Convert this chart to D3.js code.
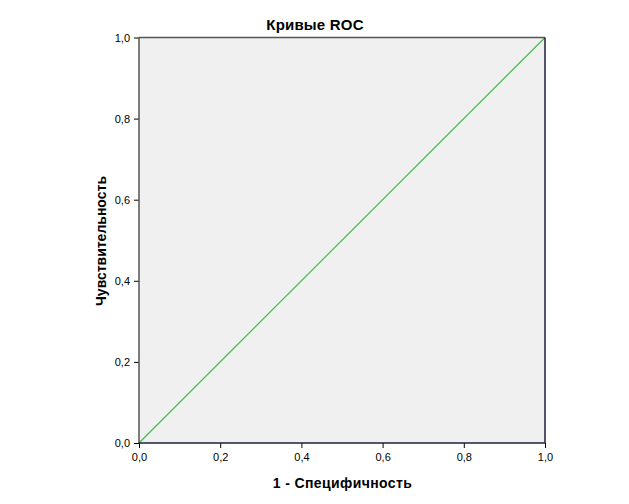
<!DOCTYPE html>
<html>
<head>
<meta charset="utf-8">
<script src="https://d3js.org/d3.v7.min.js"></script>
<style>
  body { margin: 0; background: #fff; }
  svg text { font-family: Arial, "Liberation Sans", sans-serif; fill: #000; }
</style>
</head>
<body>
<div id="chart"></div>
<script>
// ROC curve data (reference line only)
var fprValues = [0, 1];
var tprValues = [0, 1];
var tickValues = [0, 0.2, 0.4, 0.6, 0.8, 1.0];
var chartTitle = 'Кривые ROC';
var xTitle = '1 - Специфичность';
var yTitle = 'Чувствительность';

var width = 629, height = 504;
var margin = { left: 139, right: 84, top: 37.5, bottom: 61 };
var plotW = width - margin.left - margin.right;
var plotH = height - margin.top - margin.bottom;

var svg = d3.select('#chart')
  .append('svg')
  .attr('width', width)
  .attr('height', height);

var x = d3.scaleLinear().domain([0, 1]).range([margin.left, margin.left + plotW]);
var y = d3.scaleLinear().domain([0, 1]).range([margin.top + plotH, margin.top]);

var fmt = function(d) { return d3.format('.1f')(d).replace('.', ','); };

// plot background
svg.append('rect')
  .attr('x', x(0)).attr('y', y(1))
  .attr('width', x(1) - x(0)).attr('height', y(0) - y(1))
  .attr('fill', '#f0f0f0');

// axes
var xAxis = svg.append('g')
  .attr('transform', 'translate(0,' + y(0) + ')')
  .call(d3.axisBottom(x).tickValues(tickValues).tickFormat(fmt).tickSize(5).tickSizeOuter(0));
var yAxis = svg.append('g')
  .attr('transform', 'translate(' + x(0) + ',0)')
  .call(d3.axisLeft(y).tickValues(tickValues).tickFormat(fmt).tickSize(5).tickSizeOuter(0));

[xAxis, yAxis].forEach(function(a) {
  a.select('.domain').remove();
  a.selectAll('line').attr('stroke', '#000');
  a.selectAll('text').style('font-size', '11px').attr('fill', '#000');
});
xAxis.selectAll('text').attr('dy', '0.9em');
yAxis.selectAll('text').attr('dx', '-1px');

// reference diagonal
var line = d3.line()
  .x(function(d, i) { return x(fprValues[i]); })
  .y(function(d, i) { return y(tprValues[i]); });
svg.append('path')
  .datum(fprValues)
  .attr('d', line)
  .attr('fill', 'none')
  .attr('stroke', '#3fbf4a')
  .attr('stroke-width', 1.2);

// frame: left/top grey, right/bottom dark navy
svg.append('line').attr('x1', x(0)).attr('x2', x(0)).attr('y1', y(0)).attr('y2', y(1))
  .attr('stroke', '#555').attr('stroke-width', 1.5);
svg.append('line').attr('x1', x(0)).attr('x2', x(1)).attr('y1', y(1)).attr('y2', y(1))
  .attr('stroke', '#555').attr('stroke-width', 1.5);
svg.append('line').attr('x1', x(1)).attr('x2', x(1)).attr('y1', y(0)).attr('y2', y(1))
  .attr('stroke', '#1c1f3c').attr('stroke-width', 1.5);
svg.append('line').attr('x1', x(0)).attr('x2', x(1)).attr('y1', y(0)).attr('y2', y(0))
  .attr('stroke', '#1c1f3c').attr('stroke-width', 1.5);

// titles
svg.append('text')
  .attr('x', 315).attr('y', 29.5)
  .attr('text-anchor', 'middle')
  .style('font-size', '15px')
  .style('font-weight', 'bold')
  .style('letter-spacing', '0.2px')
  .text(chartTitle);

svg.append('text')
  .attr('x', 342.5).attr('y', 487.5)
  .attr('text-anchor', 'middle')
  .style('font-size', '14px')
  .style('font-weight', 'bold')
  .style('letter-spacing', '0.4px')
  .text(xTitle);

svg.append('text')
  .attr('transform', 'translate(106,' + 241 + ') rotate(-90)')
  .attr('text-anchor', 'middle')
  .style('font-size', '14px')
  .style('font-weight', 'bold')
  .text(yTitle);
</script>
</body>
</html>
